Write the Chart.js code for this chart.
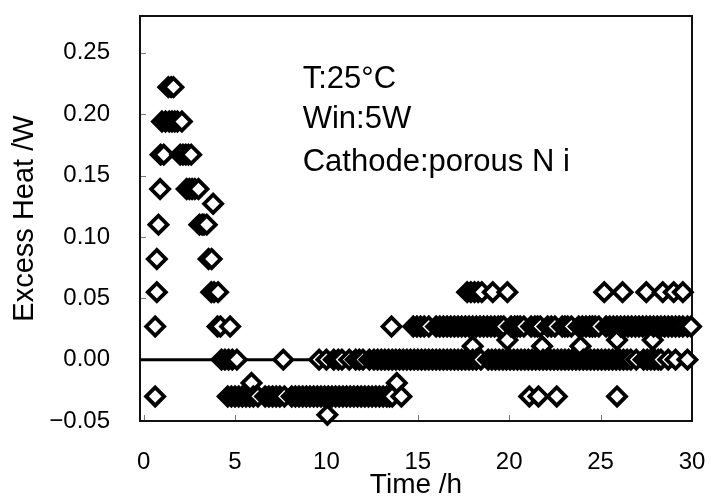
<!DOCTYPE html>
<html>
<head>
<meta charset="utf-8">
<script src="https://cdn.jsdelivr.net/npm/chart.js@4.4.1/dist/chart.umd.min.js"></script>
<style>
html,body{margin:0;padding:0;background:#fff;}
#wrap{width:714px;height:499px;}
</style>
</head>
<body>
<div id="wrap"><canvas id="c" width="714" height="499"></canvas></div>
<script>
// ---- Data ----
// Times (h) at which each quantised excess-heat level (W) was recorded
const lvl222 = 0.222, t222 = [1.35, 1.5, 1.63];
const lvl194 = 0.194, t194 = [1.0, 1.2, 1.4, 1.55, 1.7, 1.85, 2.09];
const lvl167 = 0.167, t167 = [0.93, 1.1, 2.0, 2.15, 2.3, 2.45, 2.6];
const lvl139 = 0.139, t139 = [0.9, 2.35, 2.5, 2.65, 2.8, 3.0];
const lvl127 = 0.127, t127 = [3.8];
const lvl111 = 0.110, t111 = [0.81, 3.05, 3.2, 3.3, 3.45];
const lvl083 = 0.082, t083 = [0.72, 3.55, 3.72];
const lvl056 = 0.055, t056 = [0.72, 3.7, 3.85, 4.07, 17.7, 17.9, 18.1, 18.3, 18.5, 19.1, 19.9,
  25.2, 26.2, 27.5, 28.4, 29.0, 29.5];
const lvl028 = 0.027, t028 = [0.63, 4.04, 4.2, 4.73, 13.56, 14.75, 14.95, 15.15, 15.35, 15.6,
  16.0, 16.2, 16.4, 16.6, 16.8, 17.0, 17.2, 17.4, 17.6, 17.8, 18.0, 18.2, 18.4, 18.6, 18.8,
  19.0, 19.2, 19.4, 19.55, 19.7, 20.1, 20.3, 20.45, 20.6, 20.8, 21.2, 21.4, 21.55, 21.7,
  22.1, 22.3, 22.5, 22.9, 23.05, 23.2, 23.4, 23.8, 24.0, 24.2, 24.4, 24.55, 24.7, 24.9,
  25.3, 25.5, 25.7, 25.9, 26.1, 26.3, 26.5, 26.7, 26.9, 27.1, 27.3, 27.5, 27.7, 27.9, 28.1,
  28.3, 28.5, 28.7, 28.9, 29.1, 29.3, 29.5, 29.75, 29.95];
const lvl016 = 0.016, t016 = [19.9, 25.9, 27.85];
const lvl011 = 0.011, t011 = [18.0, 21.8, 23.9];
const lvl000 = 0.000, t000 = [4.26, 4.45, 4.65, 4.85, 5.1, 7.64, 9.6, 10.0, 10.4, 10.65, 10.85,
  11.25, 11.6, 11.8, 12.0, 12.35, 12.6, 12.8, 13.0, 13.2, 13.4, 13.6, 13.8, 14.0, 14.2, 14.4,
  14.6, 14.8, 15.0, 15.2, 15.4, 15.6, 15.8, 16.0, 16.2, 16.4, 16.6, 16.8, 17.0, 17.2, 17.4,
  17.6, 17.8, 18.0, 18.2, 18.45, 18.85, 19.05, 19.25, 19.45, 19.65, 19.85, 20.05, 20.25,
  20.45, 20.65, 20.85, 21.05, 21.25, 21.45, 21.65, 21.85, 22.05, 22.25, 22.45, 22.65, 22.85,
  23.05, 23.25, 23.45, 23.65, 23.85, 24.05, 24.25, 24.45, 24.65, 24.85, 25.05, 25.25, 25.45,
  25.65, 25.85, 26.05, 26.25, 26.45, 26.65, 26.95, 27.35, 27.55, 27.75, 27.95, 28.15, 28.3,
  28.7, 29.1, 29.75];
const lvlm019 = -0.019, tm019 = [5.9, 13.85];
const lvlm030 = -0.030, tm030 = [0.63, 4.6, 4.8, 5.0, 5.2, 5.4, 5.6, 5.8, 6.0, 6.25, 6.65, 6.85,
  7.05, 7.25, 7.45, 7.7, 8.1, 8.3, 8.5, 8.7, 8.9, 9.1, 9.3, 9.5, 9.7, 9.9, 10.1, 10.3, 10.5,
  10.7, 10.9, 11.1, 11.3, 11.5, 11.7, 11.9, 12.1, 12.3, 12.5, 12.7, 12.9, 13.1, 13.3, 13.45,
  13.6, 14.1, 21.1, 21.6, 22.6, 25.9];
const lvlm045 = -0.045, tm045 = [10.05];

// zero reference line
const zeroLineX = [-0.2, 30];
const zeroLineY = 0;

// tick values
const xTickStep = 5, yTickStep = 0.05;

// ---- Build the point table (sorted in time, drawn in recording order) ----
const groups = [
  [lvl222, t222], [lvl194, t194], [lvl167, t167], [lvl139, t139], [lvl127, t127],
  [lvl111, t111], [lvl083, t083], [lvl056, t056], [lvl028, t028], [lvl016, t016],
  [lvl011, t011], [lvl000, t000], [lvlm019, tm019], [lvlm030, tm030], [lvlm045, tm045]
];
const points = [];
groups.forEach(([v, ts]) => ts.forEach(t => points.push({x: t, y: v})));
points.sort((a, b) => a.x - b.x);

const FONT = '"Liberation Sans", Arial, Helvetica, sans-serif';

const framePlugin = {
  id: 'frameAndText',
  beforeDatasetsDraw(chart) {
    const {ctx, chartArea: a, scales: {x, y}} = chart;
    ctx.save();
    // inward tick marks
    ctx.strokeStyle = '#777';
    ctx.lineWidth = 1;
    y.ticks.forEach(tk => {
      const py = Math.round(y.getPixelForValue(tk.value)) + 0.5;
      ctx.beginPath(); ctx.moveTo(a.left, py); ctx.lineTo(a.left + 6, py); ctx.stroke();
    });
    x.ticks.forEach(tk => {
      const px = Math.round(x.getPixelForValue(tk.value)) + 0.5;
      ctx.beginPath(); ctx.moveTo(px, a.bottom); ctx.lineTo(px, a.bottom - 6); ctx.stroke();
    });
    // frame
    ctx.strokeStyle = '#111';
    ctx.lineWidth = 2;
    ctx.strokeRect(a.left, a.top, a.right - a.left, a.bottom - a.top);
    ctx.restore();
  },
  afterDatasetsDraw(chart) {
    const {ctx, scales: {x, y}} = chart;
    ctx.save();
    ctx.fillStyle = '#000';
    ctx.font = '31px ' + FONT;
    ctx.textAlign = 'left';
    ctx.textBaseline = 'alphabetic';
    const tx = x.getPixelForValue(8.7);
    ctx.fillText('T:25\u00B0C', tx, y.getPixelForValue(0.2217));
    ctx.fillText('Win:5W', tx, y.getPixelForValue(0.189));
    ctx.fillText('Cathode:porous N i', tx, y.getPixelForValue(0.154));
    ctx.restore();
  }
};

new Chart(document.getElementById('c'), {
  type: 'scatter',
  data: {
    datasets: [
      {
        label: 'Excess heat',
        data: points,
        pointStyle: 'rectRot',
        pointRadius: 9,
        pointHoverRadius: 9,
        borderWidth: 3.8,
        borderColor: '#000',
        backgroundColor: '#fff',
        clip: false,
        order: 1
      },
      {
        type: 'line',
        label: 'zero',
        data: zeroLineX.map(v => ({x: v, y: zeroLineY})),
        borderColor: '#000',
        borderWidth: 3,
        pointRadius: 0,
        showLine: true,
        fill: false,
        order: 2
      }
    ]
  },
  options: {
    responsive: false,
    animation: false,
    events: [],
    layout: {padding: {left: 0, top: 16, right: 22, bottom: 0}},
    plugins: {legend: {display: false}, tooltip: {enabled: false}},
    scales: {
      x: {
        type: 'linear',
        min: -0.2, max: 30,
        grid: {display: false, drawTicks: false},
        border: {display: false},
        ticks: {
          stepSize: xTickStep, includeBounds: false, padding: 27, color: '#000',
          font: {family: FONT, size: 24}, maxRotation: 0
        },
        title: {
          display: true, text: 'Time /h', color: '#000',
          font: {family: FONT, size: 28, lineHeight: 1.0}, padding: {top: 0, bottom: 0}
        },
        afterFit(s) { s.height = 78; s.paddingLeft = 0; s.paddingRight = 0; }
      },
      y: {
        type: 'linear',
        min: -0.05, max: 0.28,
        grid: {display: false, drawTicks: false},
        border: {display: false},
        ticks: {
          stepSize: yTickStep, includeBounds: false, padding: 30, color: '#000',
          font: {family: FONT, size: 24},
          callback: v => (v < -1e-9 ? '\u2212' + Math.abs(v).toFixed(2) : Math.abs(v).toFixed(2))
        },
        title: {
          display: true, text: 'Excess Heat /W', color: '#000',
          font: {family: FONT, size: 29, lineHeight: 1.2}, padding: {top: 8, bottom: 0}
        },
        afterFit(s) { s.width = 140; s.paddingTop = 0; s.paddingBottom = 0; }
      }
    }
  },
  plugins: [framePlugin]
});
</script>
</body>
</html>
